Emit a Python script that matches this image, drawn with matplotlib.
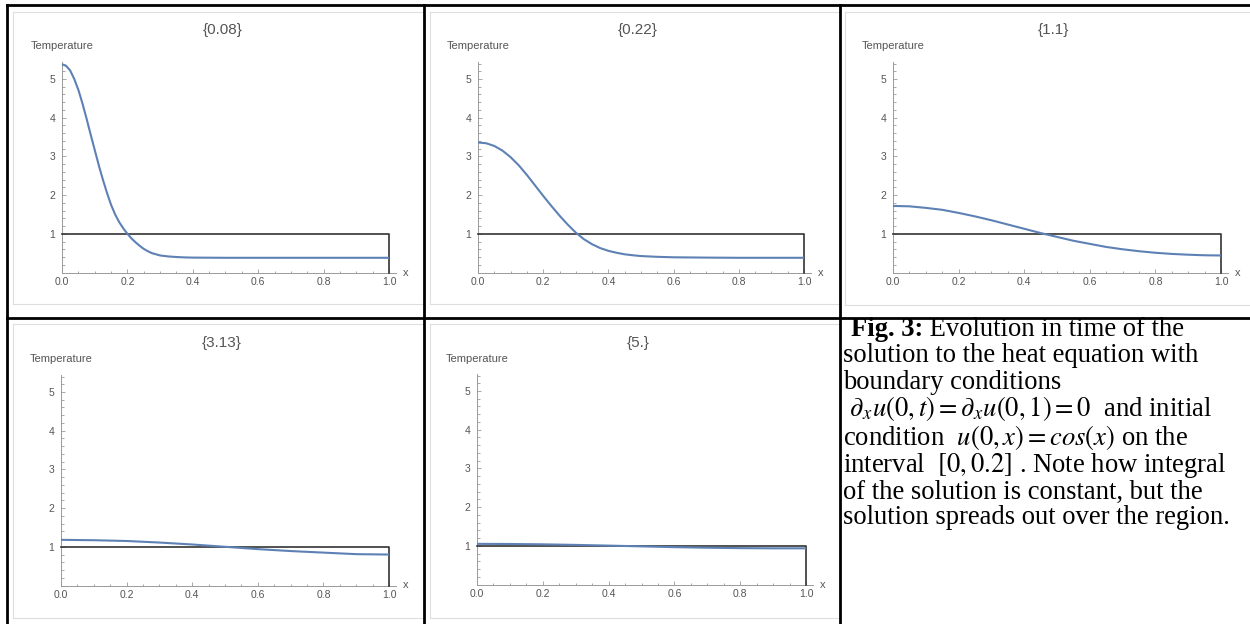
import matplotlib
matplotlib.use("Agg")
import matplotlib.pyplot as plt
from matplotlib.lines import Line2D
from matplotlib.ticker import MultipleLocator, FixedLocator, FixedFormatter

plt.rcParams["font.family"] = ["Liberation Sans", "DejaVu Sans"]
plt.rcParams["mathtext.fontset"] = "stix"

# ---------------- data ----------------
time_labels = ["{0.08}", "{0.22}", "{1.1}", "{3.13}", "{5.}"]

x_t008 = [0, 0.0125, 0.025, 0.0375, 0.05, 0.0625, 0.075, 0.0875, 0.1, 0.1125,
          0.125, 0.1375, 0.15, 0.1625, 0.175, 0.1875, 0.2, 0.2125, 0.225,
          0.2375, 0.25, 0.2625, 0.275, 0.2875, 0.3, 0.325, 0.35, 0.375, 0.4,
          0.5, 0.6, 0.7, 0.8, 0.9, 1.0]
u_t008 = [5.38, 5.34, 5.22, 5.00, 4.72, 4.37, 3.98, 3.57, 3.17, 2.77,
          2.40, 2.06, 1.75, 1.50, 1.30, 1.14, 1.00, 0.88, 0.78,
          0.69, 0.61, 0.55, 0.50, 0.47, 0.44, 0.415, 0.40, 0.39, 0.385,
          0.38, 0.38, 0.38, 0.38, 0.38, 0.38]

x_t022 = [0, 0.025, 0.05, 0.075, 0.1, 0.125, 0.15, 0.175, 0.2, 0.225, 0.25,
          0.275, 0.3, 0.325, 0.35, 0.375, 0.4, 0.425, 0.45, 0.475, 0.5, 0.55,
          0.6, 0.7, 0.8, 0.9, 1.0]
u_t022 = [3.36, 3.34, 3.27, 3.15, 2.98, 2.77, 2.52, 2.25, 1.98, 1.72, 1.47,
          1.24, 1.03, 0.86, 0.73, 0.63, 0.56, 0.51, 0.47, 0.445, 0.425, 0.405,
          0.393, 0.385, 0.38, 0.38, 0.38]

x_mid = [0, 0.05, 0.1, 0.15, 0.2, 0.25, 0.3, 0.35, 0.4, 0.45, 0.5, 0.55,
         0.6, 0.65, 0.7, 0.75, 0.8, 0.85, 0.9, 0.95, 1.0]
u_t11 = [1.72, 1.71, 1.67, 1.62, 1.54, 1.45, 1.35, 1.24, 1.13, 1.02, 0.92,
         0.82, 0.74, 0.66, 0.60, 0.55, 0.51, 0.48, 0.46, 0.445, 0.44]

x_coarse = [0, 0.1, 0.2, 0.3, 0.4, 0.5, 0.6, 0.7, 0.8, 0.9, 1.0]
u_t313 = [1.18, 1.17, 1.15, 1.11, 1.06, 1.00, 0.94, 0.89, 0.85, 0.81, 0.80]
u_t5 = [1.05, 1.047, 1.038, 1.023, 1.005, 0.985, 0.965, 0.950, 0.940, 0.935, 0.935]

series_x = [x_t008, x_t022, x_mid, x_coarse, x_coarse]
series_u = [u_t008, u_t022, u_t11, u_t313, u_t5]

ref_x = [0, 1, 1]
ref_u = [1, 1, 0]

x_ticks = [0.0, 0.2, 0.4, 0.6, 0.8, 1.0]
x_tick_labels = ["0.0", "0.2", "0.4", "0.6", "0.8", "1.0"]
y_ticks = [1, 2, 3, 4, 5]
y_tick_labels = ["1", "2", "3", "4", "5"]

caption_bold = "Fig. 3:"
caption_lines = [
    " Evolution in time of the",
    "solution to the heat equation with",
    "boundary conditions",
    r" $\partial_x u(0,t) = \partial_x u(0,1) = 0$  and initial",
    r"condition  $u(0,x) = cos(x)$ on the",
    r"interval  $[0, 0.2]$ . Note how integral",
    "of the solution is constant, but the",
    "solution spreads out over the region.",
]

# ---------------- layout ----------------
W, H = 1250, 624
fig = plt.figure(figsize=(W / 100, H / 100), dpi=100)
fig.patch.set_facecolor("white")

# (pixel of x=0, pixel of x=1, pixel row of y=0, row offset)
panel_pos = [(62, 389, 272.5, 0), (478, 804, 272.5, 0), (893, 1221, 272.5, 0),
             (61, 389, 585.5, 313), (477, 806, 584.5, 313)]
unit_y = 38.7
xmax, ymax = 1.02, 5.45

BLUE = "#5E81B5"
AX_C = "#9a9a9a"
TXT_C = "#555555"


def fx(px):
    return px / W


def fy(py):
    return 1 - py / H


def hline(x0, x1, y, color, lw, z=1):
    fig.add_artist(Line2D([fx(x0), fx(x1)], [fy(y), fy(y)], color=color,
                          lw=lw, transform=fig.transFigure, zorder=z))


def vline(x, y0, y1, color, lw, z=1):
    fig.add_artist(Line2D([fx(x), fx(x)], [fy(y0), fy(y1)], color=color,
                          lw=lw, transform=fig.transFigure, zorder=z))


# light grey frames of the embedded plot images
FR = "#dedede"
frames = [(13, 424, 12, 304), (430, 840, 12, 304), (845, 1250, 12, 305),
          (13, 424, 324, 618), (430, 840, 324, 618)]
for (l, r, t, b) in frames:
    hline(l, r, t, FR, 0.8)
    hline(l, r, b, FR, 0.8)
    vline(l, t, b, FR, 0.8)

for i in range(5):
    x0, x1, y0, off = panel_pos[i]
    ux = x1 - x0
    wpx = ux * xmax
    hpx = unit_y * ymax
    ax = fig.add_axes([fx(x0), fy(y0), wpx / W, hpx / H])
    ax.set_xlim(0, xmax)
    ax.set_ylim(0, ymax)
    ax.patch.set_alpha(0)
    for s in ("top", "right"):
        ax.spines[s].set_visible(False)
    for s in ("left", "bottom"):
        ax.spines[s].set_color(AX_C)
        ax.spines[s].set_linewidth(0.7)
    ax.xaxis.set_major_locator(FixedLocator(x_ticks))
    ax.xaxis.set_major_formatter(FixedFormatter(x_tick_labels))
    ax.xaxis.set_minor_locator(MultipleLocator(0.05))
    ax.yaxis.set_major_locator(FixedLocator(y_ticks))
    ax.yaxis.set_major_formatter(FixedFormatter(y_tick_labels))
    ax.yaxis.set_minor_locator(MultipleLocator(0.2))
    ax.tick_params(which="both", direction="in", color=AX_C, width=0.6,
                   labelcolor=TXT_C, labelsize=7.5)
    ax.tick_params(which="major", length=3.2)
    ax.tick_params(which="minor", length=1.8)
    ax.tick_params(axis="x", pad=3)
    ax.tick_params(axis="y", pad=5)

    ax.plot(ref_x, ref_u, color="#333333", lw=1.2, clip_on=False, zorder=3)
    ax.plot(series_x[i], series_u[i], color=BLUE, lw=1.5, clip_on=False,
            zorder=4, solid_capstyle="butt")

    tr = ax.get_xaxis_transform()
    title_py = 30 + off
    temp_py = 46 + off
    ax.text(0.49, (y0 - title_py) / hpx, time_labels[i], transform=tr,
            ha="center", va="center", fontsize=11, color=TXT_C)
    ax.text(0.0, (y0 - temp_py) / hpx, "Temperature", transform=tr,
            ha="center", va="center", fontsize=8, color=TXT_C)
    ax.text(1.052, 0.0, "x", transform=tr, ha="center", va="center",
            fontsize=8, color=TXT_C)

# caption text
SERIF = ["Liberation Serif", "DejaVu Serif"]
CAP_FS = 19.2
cap_baselines = [336, 362, 389, 416, 445, 472, 499, 524]
renderer = fig.canvas.get_renderer()
tb = fig.text(fx(851), fy(cap_baselines[0]), caption_bold, ha="left",
              va="baseline", family=SERIF, fontsize=CAP_FS, weight="bold",
              color="black")
bb = tb.get_window_extent(renderer=renderer)
for k, (line, yb) in enumerate(zip(caption_lines, cap_baselines)):
    xs = bb.x1 / W if k == 0 else fx(843)
    fig.text(xs, fy(yb), line, ha="left", va="baseline", family=SERIF,
             fontsize=CAP_FS, color="black")

# black table borders
BL = "black"
LWB = 2.0
hline(7, 1250, 5, BL, LWB, z=10)
hline(7, 1250, 318, BL, LWB, z=10)
vline(7, 5, 624, BL, LWB, z=10)
vline(424, 5, 624, BL, LWB, z=10)
vline(840, 5, 624, BL, LWB, z=10)

fig.savefig("out.png", dpi=100, facecolor="white")
